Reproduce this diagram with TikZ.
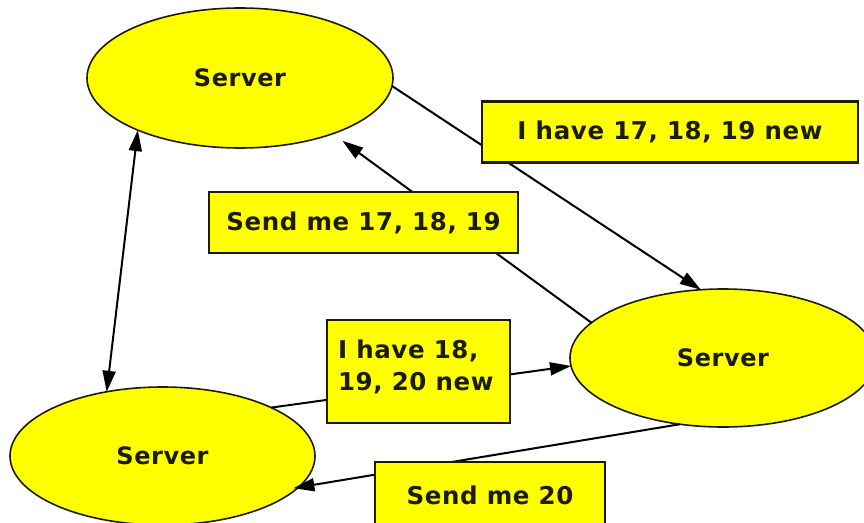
\documentclass[tikz,border=0pt]{standalone}
\usepackage{fontspec}
\setmainfont{DejaVu Sans}[LetterSpace=2.5]
\usetikzlibrary{shapes.geometric,arrows.meta}
\definecolor{srvyellow}{HTML}{FFFF00}
\definecolor{ink}{HTML}{1C1C00}
\tikzset{
  srv/.style={ellipse, draw=ink, line width=1.6pt, fill=srvyellow, inner sep=0pt, outer sep=0pt,
    minimum width=306pt, minimum height=140pt, text=ink, font=\bfseries\fontsize{24}{30}\selectfont},
  msgbox/.style={rectangle, draw=ink, line width=2.2pt, fill=srvyellow, inner sep=0pt, outer sep=0pt,
    text=ink, font=\bfseries\fontsize{24.5}{32}\selectfont},
  msgtext/.style={inner sep=0pt, outer sep=0pt, text=ink, font=\bfseries\fontsize{24.5}{32}\selectfont},
  conn/.style={draw=black, line width=2pt, -{Triangle[length=21pt,width=13pt]}},
  conn2/.style={draw=black, line width=2pt, {Triangle[length=21pt,width=13pt]}-{Triangle[length=21pt,width=13pt]}}
}
\begin{document}
\begin{tikzpicture}[x=1pt,y=-1pt]
\useasboundingbox (0,0) rectangle (864,522);
\clip (0,0) rectangle (864,522);
\fill[white] (0,0) rectangle (864,522);
% servers
\node[srv] (top) at (240,78) {Server};
\node[srv, minimum height=138pt] (right) at (723,358) {Server};
\node[srv, minimum width=305pt, minimum height=138pt] (bot) at (162.5,456) {Server};
% connectors
\draw[conn] (top.-3) -- (right.108);
\draw[conn, shorten >=12pt] (right.165) -- (top.-31);
\draw[conn2] (top.207) -- (bot.131.7);
\draw[conn] (bot.24) -- (right.183);
\draw[conn, shorten >=-5pt] (right.237) -- (bot.-13);
% message boxes
\node[msgbox, minimum width=376pt, minimum height=61pt] (m1) at (670,132) {I have 17, 18, 19 new};
\node[msgbox, minimum width=309pt, minimum height=61pt] (m2) at (363.5,222.5) {Send me 17, 18, 19};
\node[msgbox, minimum width=183pt, minimum height=103pt] (m3) at (418.5,371.5) {};
\node[msgtext, align=left, anchor=north west] (t3) at (338,340) {I have 18,\\19, 20 new};
\node[msgbox, minimum width=230pt, minimum height=66pt] (m4) at (490,495) {Send me 20};
\end{tikzpicture}
\end{document}
